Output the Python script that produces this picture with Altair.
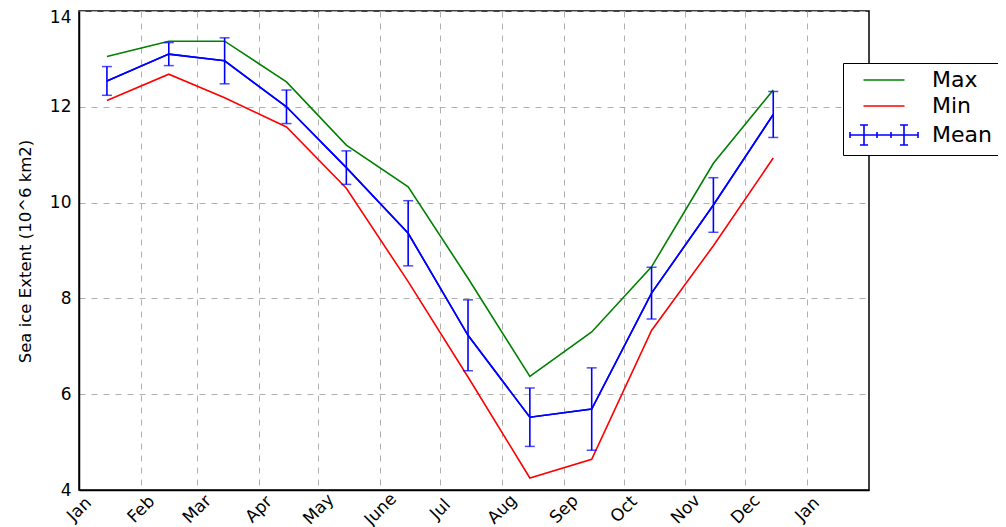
import altair as alt
import pandas as pd

# ---- data ----
month_dates = ["2015-01-15", "2015-02-15", "2015-03-15", "2015-04-15", "2015-05-15", "2015-06-15",
               "2015-07-15", "2015-08-15", "2015-09-15", "2015-10-15", "2015-11-15", "2015-12-15"]
max_extent = [13.05, 13.37, 13.37, 12.52, 11.20, 10.33, 8.42, 6.37, 7.30, 8.66, 10.82, 12.35]
min_extent = [12.13, 12.68, 12.19, 11.58, 10.30, 8.35, 6.36, 4.25, 4.64, 7.33, 9.10, 10.93]
mean_extent = [12.54, 13.10, 12.96, 12.00, 10.73, 9.36, 7.23, 5.52, 5.69, 8.11, 9.95, 11.84]
std_extent = [0.30, 0.24, 0.48, 0.35, 0.35, 0.68, 0.74, 0.61, 0.86, 0.54, 0.57, 0.48]

tick_labels = ["Jan", "Feb", "Mar", "Apr", "May", "June", "Jul", "Aug", "Sep", "Oct", "Nov", "Dec", "Jan"]
y_ticks = [4, 6, 8, 10, 12, 14]

series_order = ["Max", "Min", "Mean"]
series_colors = ["#008000", "#ff0000", "#0000ff"]

# ---- tables ----
lines = pd.DataFrame({
    "date": month_dates * 3,
    "series": ["Max"] * 12 + ["Min"] * 12 + ["Mean"] * 12,
    "extent": max_extent + min_extent + mean_extent,
})
err = pd.DataFrame({
    "date": month_dates,
    "mean": mean_extent,
    "lo": [m - s for m, s in zip(mean_extent, std_extent)],
    "hi": [m + s for m, s in zip(mean_extent, std_extent)],
})

tick_values = [alt.DateTime(year=2015, month=m, date=1, utc=True) for m in range(1, 13)] + \
              [alt.DateTime(year=2016, month=1, date=1, utc=True)]
month_arr = "[" + ",".join("'%s'" % t for t in tick_labels[:12]) + "]"
label_expr = "utcyear(datum.value) > 2015 ? '%s' : %s[utcmonth(datum.value)]" % (tick_labels[12], month_arr)

x_enc = alt.X(
    "date:T",
    scale=alt.Scale(type="utc", domain=[alt.DateTime(year=2015, month=1, date=1, utc=True),
                                       alt.DateTime(year=2016, month=2, date=1, utc=True)]),
    axis=alt.Axis(values=tick_values, labelExpr=label_expr, title=None, labelAngle=-45,
                  labelAlign="center", labelBaseline="middle", labelPadding=19, ticks=False,
                  labelFontSize=17),
)
y_top = max(y_ticks)
y_scale = alt.Scale(domain=[min(y_ticks), y_top], nice=False, zero=False)
y_axis = alt.Axis(values=y_ticks, title="Sea ice Extent (10^6 km2)", ticks=False, labelPadding=8,
                  labelFontSize=17,
                  labelBaseline=alt.ExprRef("datum.value == %d ? 'top' : 'middle'" % y_top),
                  labelOffset=alt.ExprRef("datum.value == %d ? -2 : 0" % y_top),
                  titleFontSize=16.5, titleFontWeight="normal",
                  titleX=-54, titleY=240, titleAngle=270, titleAlign="center", titleBaseline="middle")

# legend symbols: unit = 10 px (sqrt(symbolSize) = 20)
mean_path = ("M-3.4,0L3.4,0M-3.4,-0.3L-3.4,0.3M3.4,-0.3L3.4,0.3M-0.7,-0.3L-0.7,0.3M0.7,-0.3L0.7,0.3"
             "M-2,-1L-2,1M2,-1L2,1M-2.4,-1L-1.6,-1M-2.4,1L-1.6,1"
             "M1.6,-1L2.4,-1M1.6,1L2.4,1")
line_path = "M-2.05,0L2.05,0"

legend = alt.Legend(
    title=None, orient="none", legendX=764, legendY=52,
    symbolType=alt.ExprRef("datum.value === 'Mean' ? '%s' : '%s'" % (mean_path, line_path)),
    symbolSize=400, symbolStrokeWidth=1.6, symbolOffset=24, symbolFillColor="transparent",
    labelFontSize=22, labelFont="DejaVu Sans", labelColor="black", labelOffset=37,
    strokeColor="black", fillColor="white", padding=6, rowPadding=4,
)

base_lines = alt.Chart(lines).mark_line(strokeWidth=1.6).encode(
    x=x_enc,
    y=alt.Y("extent:Q", scale=y_scale, axis=y_axis),
    color=alt.Color("series:N", scale=alt.Scale(domain=series_order, range=series_colors), legend=legend),
    detail="series:N",
)

mean_line = alt.Chart(err).mark_line(strokeWidth=1.6, color="#0000ff").encode(
    x="date:T", y="mean:Q"
)
bars = alt.Chart(err).mark_rule(strokeWidth=1.6, color="#0000ff").encode(
    x="date:T", y="lo:Q", y2="hi:Q"
)
cap_hi = alt.Chart(err).mark_tick(color="#0000ff", size=10, thickness=1.5, orient="horizontal").encode(
    x="date:T", y="hi:Q"
)
cap_lo = alt.Chart(err).mark_tick(color="#0000ff", size=10, thickness=1.5, orient="horizontal").encode(
    x="date:T", y="lo:Q"
)

chart = alt.layer(base_lines, mean_line, bars, cap_hi, cap_lo).properties(
    width=790, height=479,
    autosize=alt.AutoSizeParams(type="none"),
    padding={"left": 71, "top": 3, "right": 129, "bottom": 37},
    title=alt.TitleParams("Sea Ice Extent", fontSize=24, font="DejaVu Sans", fontWeight="normal",
                          anchor="middle", frame="group", baseline="alphabetic", offset=1, dx=28,
                          color="black"),
).configure(
    font="DejaVu Sans",
).configure_view(
    stroke="black", strokeWidth=1.5,
).configure_axis(
    domainColor="black", domainWidth=1.5, labelColor="black", titleColor="black",
    grid=True, gridColor="#b0b0b0", gridDash=[6, 6], gridWidth=1, labelFont="DejaVu Sans",
    titleFont="DejaVu Sans",
)

chart.save("out.html", embed_options={"renderer": "svg", "actions": False})
